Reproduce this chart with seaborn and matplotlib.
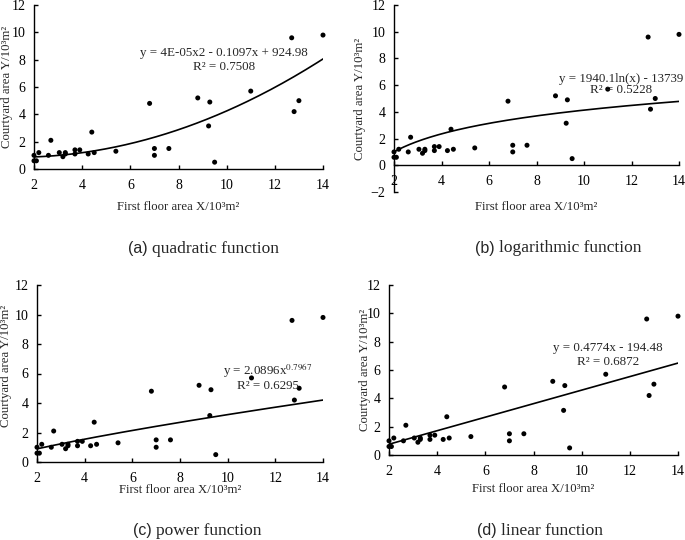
import numpy as np
import pandas as pd
import matplotlib
matplotlib.use('Agg')
import matplotlib.pyplot as plt
import seaborn as sns

sns.set_style('white')
plt.rcParams['font.family'] = ['Liberation Serif', 'DejaVu Serif']
plt.rcParams['mathtext.fontset'] = 'stix'

# first floor area X (10^3 m2) and courtyard area Y (10^3 m2)
floor_area = [2.0, 2.0, 2.1, 2.2, 2.6, 2.7, 3.05, 3.2, 3.3, 3.3, 3.7, 3.7, 3.9, 4.25, 4.4,
              4.5, 5.4, 6.8, 7.0, 7.0, 7.6, 8.8, 9.25, 9.3, 9.5, 11.0, 12.7, 12.8, 13.0, 14.0]
courtyard_area = [1.0, 0.6, 0.6, 1.2, 1.0, 2.1, 1.2, 0.9, 1.1, 1.2, 1.1, 1.4, 1.4, 1.1, 2.7,
                  1.2, 1.3, 4.8, 1.5, 1.0, 1.5, 5.2, 3.15, 4.9, 0.5, 5.7, 9.6, 4.2, 5.0, 9.8]

# trend line coefficients (in 10^3 units)
quad_coef = [0.0442, -0.1097, 0.925]
log_coef = [1.9401, -0.337]
power_coef = [0.513, 0.7967]
linear_coef = [0.4774, -0.1945]

equations = ['y = 4E-05x2 - 0.1097x + 924.98', 'y = 1940.1ln(x) - 13739',
             r'y = 2.0896x$^{0.7967}$', 'y = 0.4774x - 194.48']
r2_labels = ['R² = 0.7508', 'R² = 0.5228', 'R² = 0.6295', 'R² = 0.6872']
panel_tags = ['(a)', '(b)', '(c)', '(d)']
panel_names = ['quadratic function', 'logarithmic function', 'power function', 'linear function']

df = pd.DataFrame({'x': floor_area, 'y': courtyard_area})
xs = np.linspace(2, 14, 200)
curves = [
    quad_coef[0] * xs ** 2 + quad_coef[1] * xs + quad_coef[2],
    log_coef[0] * np.log(xs) + log_coef[1],
    power_coef[0] * xs ** power_coef[1],
    linear_coef[0] * xs + linear_coef[1],
]

W, H = 685, 540
fig = plt.figure(figsize=(6.85, 5.4), dpi=100)


def px_box(l, t, r, b):
    return [l / W, 1 - b / H, (r - l) / W, (b - t) / H]


boxes = [px_box(34, 5, 323, 169), px_box(394, 5, 679, 192),
         px_box(37, 285, 323, 462), px_box(389, 285, 678, 455)]
eq_pos = [(9.9, 8.48, 7.5), (11.55, 6.44, 5.6), (11.7, 6.22, 5.16), (11.1, 7.56, 6.55)]
xlab_y = [-0.232, -0.08, -0.158, -0.2]
ylab_x = [-0.093, -0.119, -0.108, -0.083]
ylab_y = [0.5, 0.5, 0.54, 0.5]
tag_pos = [(148, 249), (495, 248), (152, 531), (497, 531)]

for i in range(4):
    ax = fig.add_axes(boxes[i])
    sns.scatterplot(data=df, x='x', y='y', ax=ax, color='black', s=13,
                    edgecolor='none', zorder=3, clip_on=False)
    sns.lineplot(x=xs, y=curves[i], ax=ax, color='black', linewidth=1.2)
    ax.set_xlim(2, 14)
    if i == 1:
        ax.set_ylim(-2, 12)
        ax.set_yticks(range(-2, 13, 2))
        ax.spines['bottom'].set_position(('data', 0))
    else:
        ax.set_ylim(0, 12)
        ax.set_yticks(range(0, 13, 2))
    ax.set_xticks(range(2, 15, 2))
    sns.despine(ax=ax)
    for s in ['left', 'bottom']:
        ax.spines[s].set_color('black')
        ax.spines[s].set_linewidth(1.0)
    ax.tick_params(axis='both', direction='in', length=3, width=1, labelsize=10,
                   colors='black', left=True, bottom=True)
    ax.tick_params(axis='y', pad=6)
    ax.tick_params(axis='x', pad=7)

    ax.set_xlabel('First floor area X/10³m²', fontsize=9.2)
    ax.set_ylabel('Courtyard area Y/10³m²', fontsize=9.2)
    ax.xaxis.label.set_va('center')
    ax.yaxis.label.set_va('center')
    ax.xaxis.set_label_coords(0.5, xlab_y[i])
    ax.yaxis.set_label_coords(ylab_x[i], ylab_y[i])

    ex, ey, ry = eq_pos[i]
    ax.text(ex, ey, equations[i], ha='center', va='center', fontsize=9.4)
    ax.text(ex, ry, r2_labels[i], ha='center', va='center', fontsize=9.4)

    tx, ty = tag_pos[i]
    fig.text(tx / W, 1 - ty / H, panel_tags[i], ha='right', va='center', fontsize=11.5,
             family=['Liberation Sans', 'DejaVu Sans'])
    fig.text((tx + 4) / W, 1 - ty / H, panel_names[i], ha='left', va='center', fontsize=12.5)

fig.savefig('out.png', dpi=100)
